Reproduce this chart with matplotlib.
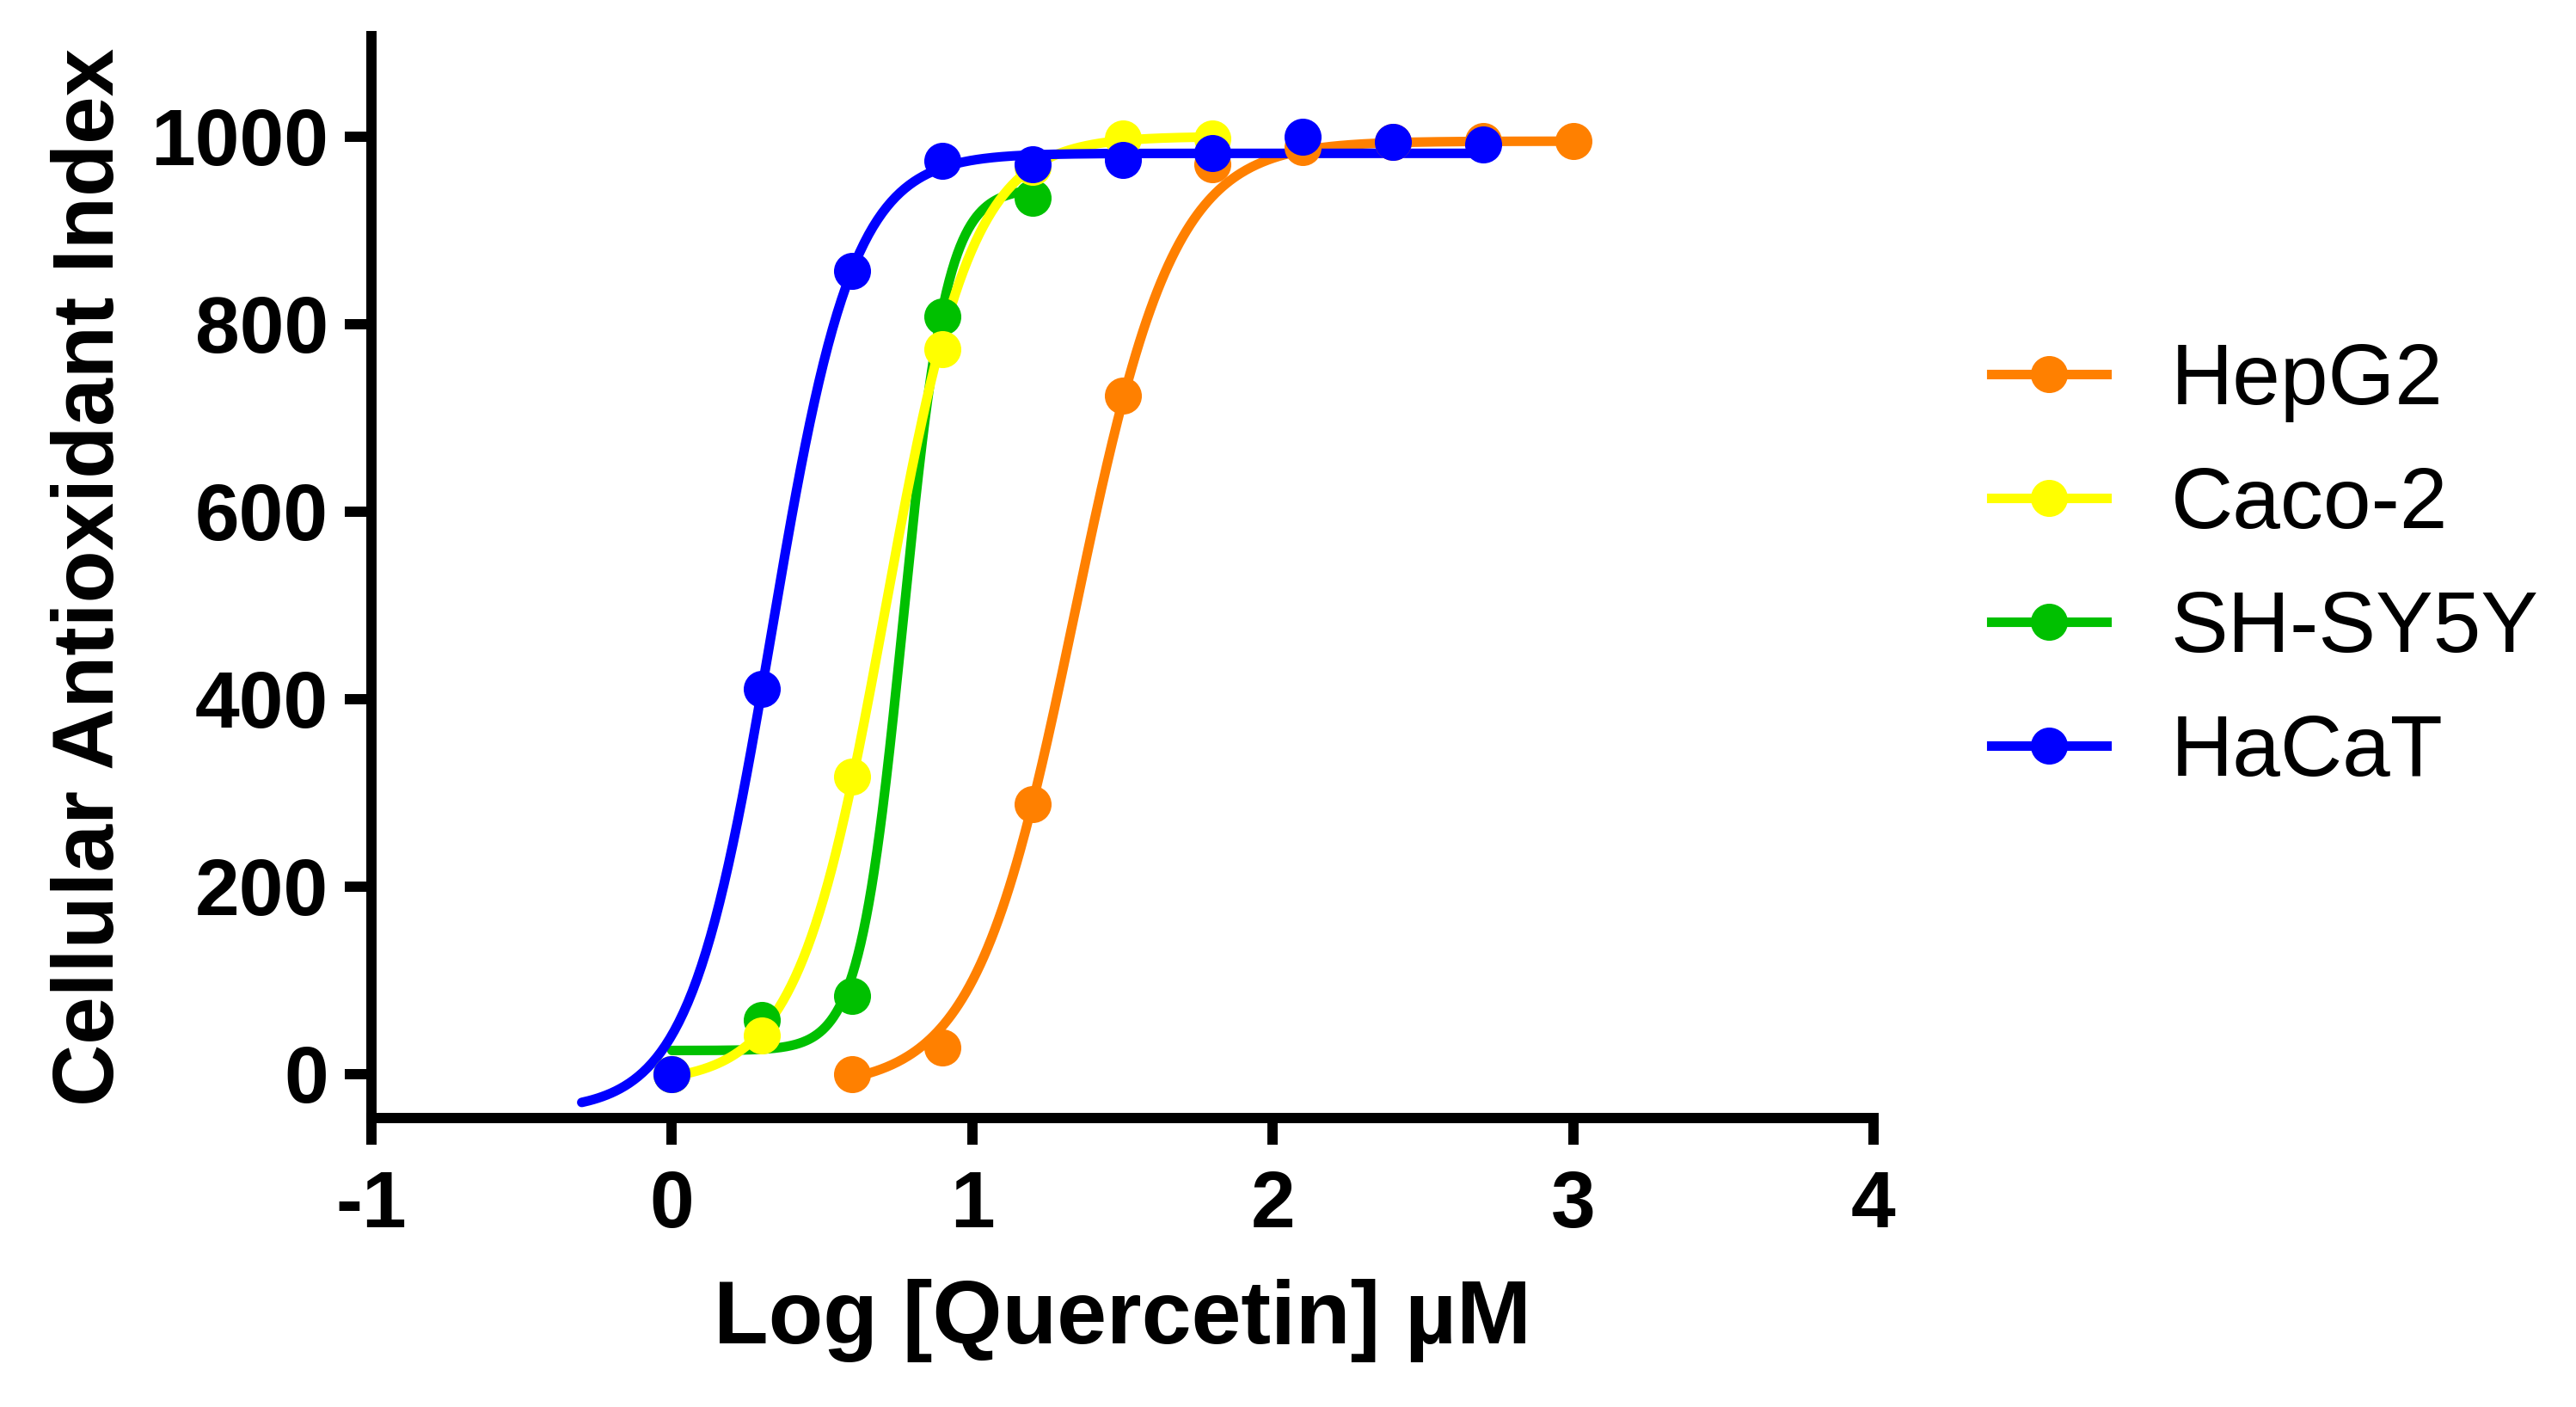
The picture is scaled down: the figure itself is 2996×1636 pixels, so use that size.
import matplotlib
matplotlib.use("Agg")
import matplotlib.pyplot as plt
from matplotlib.lines import Line2D
import numpy as np

# cell lines in legend order
cell_lines = ["HepG2", "Caco-2", "SH-SY5Y", "HaCaT"]
colors = ["#FF8000", "#FFFF00", "#00C000", "#0000FF"]

log_conc_hepg2 = [0.6, 0.9, 1.2, 1.5, 1.8, 2.1, 2.4, 2.7, 3.0]
cai_hepg2 = [0, 28, 288, 724, 970, 989, 994, 995, 995]

log_conc_caco2 = [0.0, 0.3, 0.6, 0.9, 1.2, 1.5, 1.8]
cai_caco2 = [0, 41, 317, 773, 968, 998, 998]

log_conc_shsy5y = [0.0, 0.3, 0.6, 0.9, 1.2]
cai_shsy5y = [0, 58, 83, 808, 935]

log_conc_hacat = [0.0, 0.3, 0.6, 0.9, 1.2, 1.5, 1.8, 2.1, 2.4, 2.7]
cai_hacat = [0, 411, 857, 974, 970, 975, 982, 1000, 994, 991]

# sigmoidal dose-response fits (bottom, top, logEC50, hill slope), estimated from the drawn curves
fit_bottom = [-15, -10, 25, -40]
fit_top = [995, 1000, 945, 982]
fit_log_ec50 = [1.34, 0.71, 0.77, 0.332]
fit_hill = [2.63, 3.0, 6.0, 3.2]
fit_start = [0.6, 0.0, 0.0, -0.3]
fit_end = [3.0, 1.8, 1.2, 2.7]

x_ticks = [-1, 0, 1, 2, 3, 4]
y_ticks = [0, 200, 400, 600, 800, 1000]


def dose_response(x, bottom, top, log_ec50, hill):
    return bottom + (top - bottom) / (1 + 10 ** ((log_ec50 - x) * hill))


xs = [log_conc_hepg2, log_conc_caco2, log_conc_shsy5y, log_conc_hacat]
ys = [cai_hepg2, cai_caco2, cai_shsy5y, cai_hacat]

lw = 8.0
ms = 31
curve_z = [2.0, 2.2, 2.1, 2.3]
point_z = [3.0, 3.2, 3.1, 3.3]

fig = plt.figure(figsize=(29.96, 16.36), dpi=100)
ax = fig.add_axes([0.1442, 0.2054, 0.5831, 0.7689])

for i in range(len(cell_lines)):
    xc = np.linspace(fit_start[i], fit_end[i], 400)
    yc = dose_response(xc, fit_bottom[i], fit_top[i], fit_log_ec50[i], fit_hill[i])
    ax.plot(xc, yc, color=colors[i], lw=lw, zorder=curve_z[i], solid_capstyle="round")
    ax.plot(xs[i], ys[i], linestyle="none", marker="o", ms=ms, color=colors[i],
            markeredgewidth=0, zorder=point_z[i])

ax.set_xlim(-1, 4)
ax.set_ylim(-47, 1107)
ax.set_xticks(x_ticks)
ax.set_xticklabels([str(t) for t in x_ticks])
ax.set_yticks(y_ticks)
ax.set_yticklabels([str(t) for t in y_ticks])

for side in ["top", "right"]:
    ax.spines[side].set_visible(False)
for side in ["left", "bottom"]:
    ax.spines[side].set_linewidth(8.6)
    ax.spines[side].set_capstyle("projecting")

ax.tick_params(axis="both", length=22, width=8.6, color="black")
ax.tick_params(axis="y", pad=14)
ax.tick_params(axis="x", pad=21)
for lab in ax.get_xticklabels() + ax.get_yticklabels():
    lab.set_fontfamily("Liberation Sans")
    lab.set_fontweight("bold")
    lab.set_fontsize(67)

ax.set_xlabel("Log [Quercetin] µM", fontfamily="Liberation Sans", fontweight="bold",
              fontsize=75, labelpad=30)
ax.set_ylabel("Cellular Antioxidant Index", fontfamily="Liberation Sans", fontweight="bold",
              fontsize=72, labelpad=16)

handles = [Line2D([], [], color=c, lw=lw, marker="o", ms=ms, markeredgewidth=0) for c in colors]
fig.legend(handles, cell_lines, loc="center left", bbox_to_anchor=(0.773, 0.5966),
           bbox_transform=fig.transFigure, frameon=False, borderpad=0, borderaxespad=0,
           handlelength=1.34, handletextpad=0.75, labelspacing=0.5, numpoints=1,
           prop={"family": "Liberation Sans", "size": 72})

fig.savefig("out.png", dpi=100, facecolor="white")
